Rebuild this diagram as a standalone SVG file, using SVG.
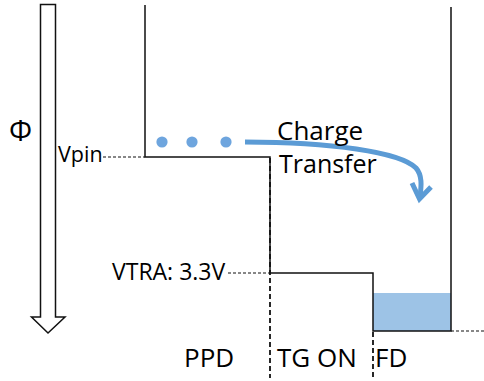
<svg xmlns="http://www.w3.org/2000/svg" width="484" height="381" viewBox="0 0 484 381">
<style>
text{font-family:"Open Sans","Liberation Sans",sans-serif;fill:#000}
.solid{fill:none;stroke:#111;stroke-width:1.5}
.dash{fill:none;stroke:#111;stroke-width:1.2;stroke-dasharray:3 2}
.vdash{fill:none;stroke:#111;stroke-width:1.8;stroke-dasharray:5 3}
.dot{fill:#6ea5de}
.flow{fill:none;stroke:#5b9bd5;stroke-width:5}
</style>
<rect width="484" height="381" fill="#fff"/>
<g id="phi-arrow">
<polygon points="40.5,4.5 55.5,4.5 55.5,317 65,317 48,333 31.5,317 40.5,317" fill="#fff" stroke="#111" stroke-width="1.5"/>
<text x="9" y="141" font-size="29">Φ</text>
</g>
<g id="fd-fill">
<rect x="373" y="293" width="78" height="38" fill="#9dc3e6"/>
</g>
<g id="potential">
<polyline class="solid" points="145,5 145,157 270,157 270,273 373,273 373,331 451,331 451,7"/>
</g>
<g id="connectors">
<line class="dash" x1="103" y1="157" x2="145" y2="157"/>
<line class="dash" x1="228" y1="273" x2="270" y2="273"/>
<line class="vdash" x1="270" y1="158" x2="270" y2="378"/>
<line class="vdash" x1="373" y1="332" x2="373" y2="378"/>
<line class="dash" x1="451" y1="331" x2="484" y2="331"/>
<path class="flow" d="M245,142 C330,142 400,152 416,168 C423,176 421,188 420,197"/>
<polyline class="flow" points="412,183 419.5,199 431,187" stroke-linejoin="miter"/>
</g>
<g id="charges">
<circle class="dot" cx="162" cy="142" r="5.6"/>
<circle class="dot" cx="192" cy="142" r="5.6"/>
<circle class="dot" cx="226" cy="142" r="5.6"/>
</g>
<g id="labels">
<text x="58" y="162" font-size="21.5">Vpin</text>
<text x="112" y="280" font-size="23">VTRA: 3.3V</text>
<text x="277" y="140" font-size="26">Charge</text>
<text x="279" y="173" font-size="25">Transfer</text>
<text x="184" y="367" font-size="26">PPD</text>
<text x="277" y="367" font-size="26">TG ON</text>
<text x="375" y="367" font-size="26">FD</text>
</g>
</svg>
